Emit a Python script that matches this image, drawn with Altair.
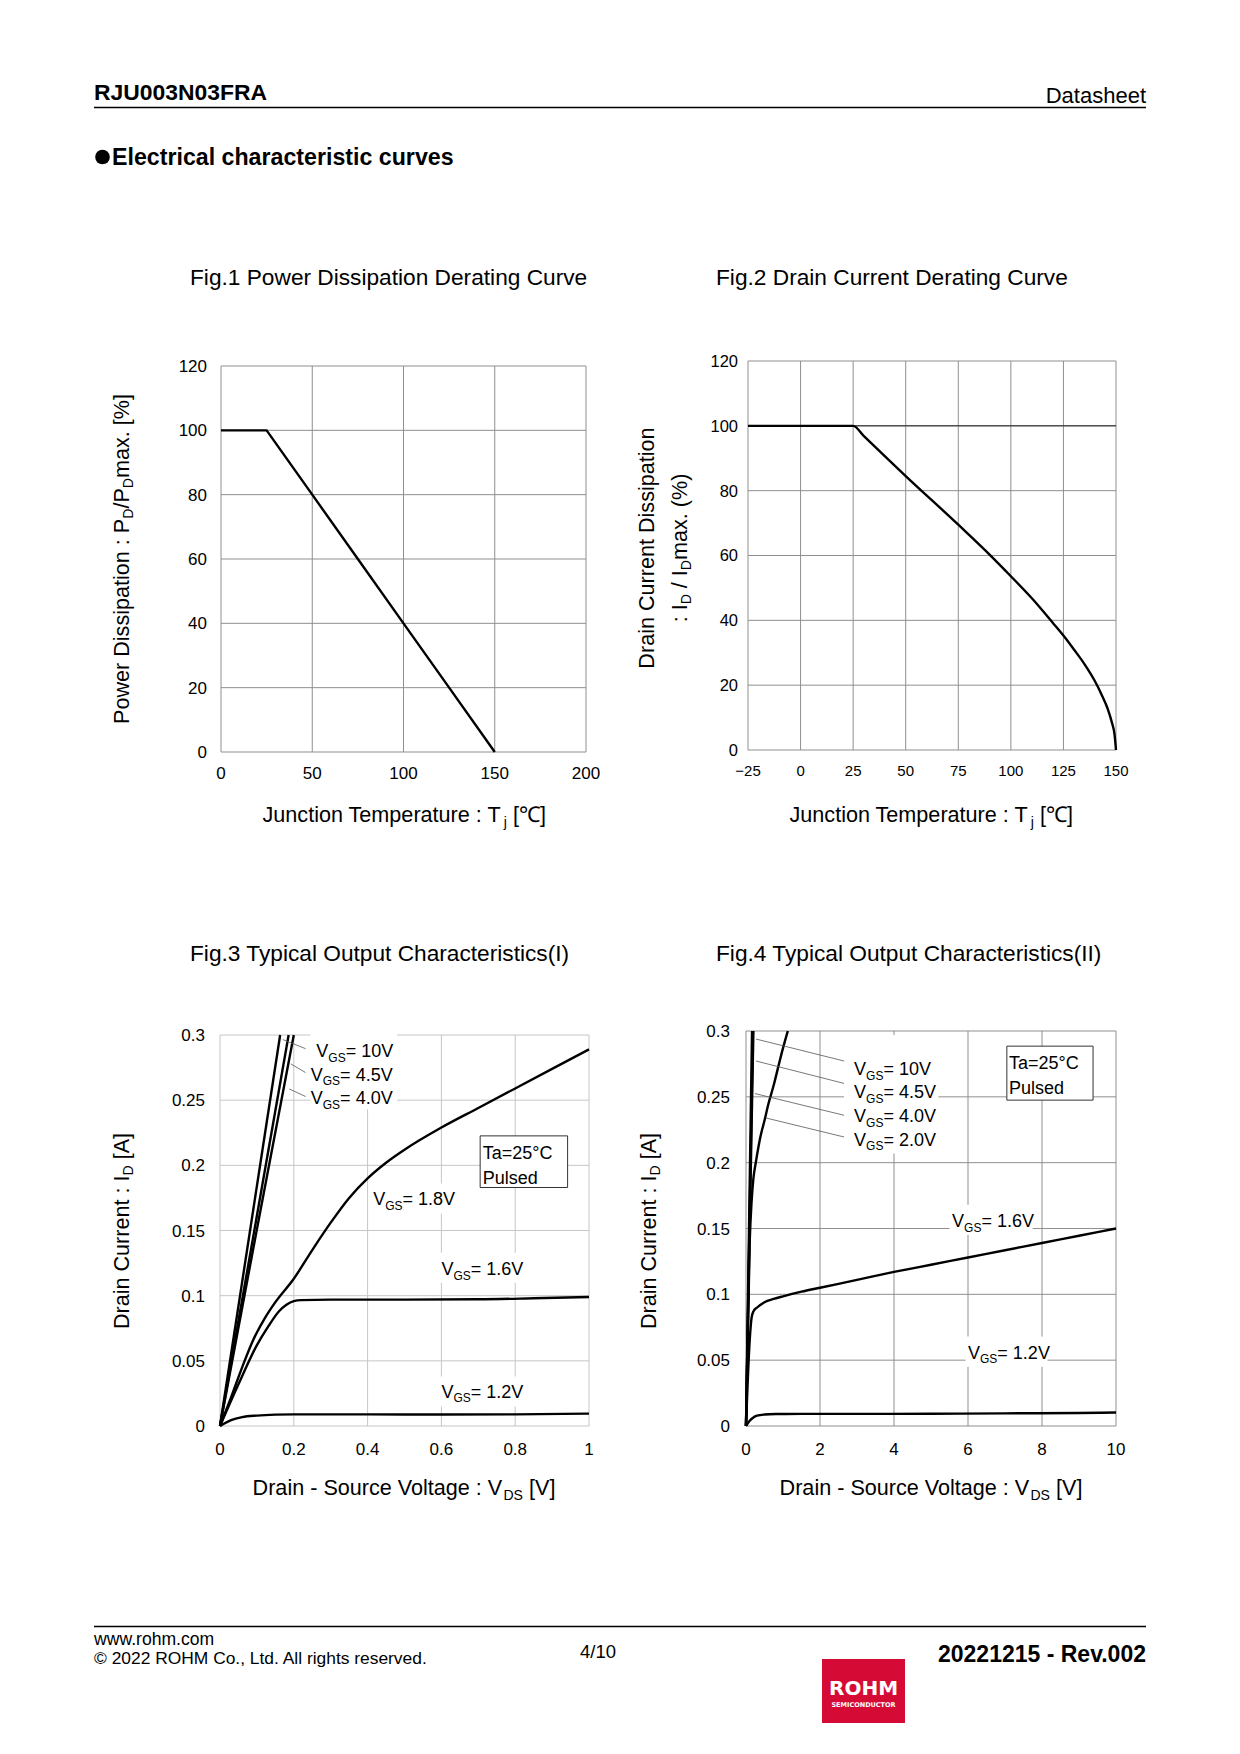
import altair as alt
import pandas as pd

# ---------------- Fig.1 Power Dissipation Derating Curve ----------------
fig1_tj = [0, 25, 50, 75, 100, 125, 150]
fig1_pd = [100, 100, 80, 60, 40, 20, 0]
fig1_xticks = [0, 50, 100, 150, 200]
fig1_xlabels = ["0", "50", "100", "150", "200"]
fig1_yticks = [0, 20, 40, 60, 80, 100, 120]
fig1_ylabels = ["0", "20", "40", "60", "80", "100", "120"]

# ---------------- Fig.2 Drain Current Derating Curve ----------------
fig2_tj = [-25, 25, 30, 50, 75, 90, 100, 110, 120, 125, 130, 135, 140, 143, 146, 148, 149.3, 150]
fig2_id = [100, 100, 96.9, 84.5, 69.5, 60.2, 53.6, 46.8, 39.2, 35.3, 31.0, 26.5, 21.2, 17.3, 12.8, 8.6, 4.8, 0]
fig2_xticks = [-25, 0, 25, 50, 75, 100, 125, 150]
fig2_xlabels = ["\u221225", "0", "25", "50", "75", "100", "125", "150"]
fig2_yticks = [0, 20, 40, 60, 80, 100, 120]
fig2_ylabels = ["0", "20", "40", "60", "80", "100", "120"]

# ---------------- Fig.3 Typical Output Characteristics (I) ----------------
f3_vds_10 = [0, 0.163]
f3_id_10 = [0, 0.3]
f3_vds_45 = [0, 0.186]
f3_id_45 = [0, 0.3]
f3_vds_40 = [0, 0.1, 0.2]
f3_id_40 = [0, 0.151, 0.3]
f3_vds_18 = [0, 0.03, 0.06, 0.09, 0.12, 0.15, 0.2, 0.25, 0.3, 0.35, 0.4, 0.45, 0.5, 0.6, 0.7, 0.8, 0.9, 1.0]
f3_id_18 = [0, 0.022, 0.045, 0.066, 0.082, 0.095, 0.113, 0.135, 0.156, 0.175, 0.19, 0.202, 0.212, 0.229, 0.244, 0.259, 0.274, 0.289]
f3_vds_16 = [0, 0.05, 0.1, 0.13, 0.16, 0.18, 0.2, 0.22, 0.3, 0.5, 0.7, 0.85, 1.0]
f3_id_16 = [0, 0.032, 0.062, 0.076, 0.088, 0.093, 0.0958, 0.0966, 0.097, 0.097, 0.0972, 0.098, 0.099]
f3_vds_12 = [0, 0.03, 0.06, 0.1, 0.15, 0.2, 0.4, 0.6, 0.8, 1.0]
f3_id_12 = [0, 0.0045, 0.0068, 0.008, 0.0087, 0.0089, 0.0089, 0.0088, 0.0089, 0.0095]
fig3_xticks = [0, 0.2, 0.4, 0.6, 0.8, 1.0]
fig3_xlabels = ["0", "0.2", "0.4", "0.6", "0.8", "1"]
fig3_yticks = [0, 0.05, 0.1, 0.15, 0.2, 0.25, 0.3]
fig3_ylabels = ["0", "0.05", "0.1", "0.15", "0.2", "0.25", "0.3"]
fig3_lab_rest = ["= 10V", "= 4.5V", "= 4.0V", "= 1.8V", "= 1.6V", "= 1.2V"]
fig3_lab_x = [0.261, 0.246, 0.246, 0.415, 0.600, 0.600]
fig3_lab_y = [0.288, 0.270, 0.252, 0.1745, 0.1207, 0.0265]
fig3_bg_x0 = [0.245, 0.41, 0.595, 0.595]
fig3_bg_x1 = [0.48, 0.63, 0.83, 0.83]
fig3_bg_y0 = [0.243, 0.163, 0.110, 0.015]
fig3_bg_y1 = [0.302, 0.186, 0.133, 0.038]
fig3_lead_x0 = [0.170, 0.192, 0.188]
fig3_lead_y0 = [0.2965, 0.2778, 0.2586]
fig3_lead_x1 = [0.232, 0.232, 0.232]
fig3_lead_y1 = [0.2895, 0.2712, 0.2528]
fig3_box = [0.705, 0.942, 0.183, 0.2226]
fig3_note = ["Ta=25\u00b0C", "Pulsed"]
fig3_note_x = [0.712, 0.712]
fig3_note_y = [0.2095, 0.191]

# ---------------- Fig.4 Typical Output Characteristics (II) ----------------
f4_vds_10 = [0, 0.163]
f4_id_10 = [0, 0.3]
f4_vds_45 = [0, 0.186]
f4_id_45 = [0, 0.3]
f4_vds_40 = [0, 0.1, 0.2]
f4_id_40 = [0, 0.151, 0.3]
f4_vds_20 = [0, 0.1, 0.15, 0.2, 0.27, 0.33, 0.4, 0.5, 0.6, 0.75, 0.9, 1.0, 1.13]
f4_id_20 = [0, 0.14, 0.17, 0.188, 0.201, 0.211, 0.221, 0.232, 0.244, 0.259, 0.276, 0.287, 0.3]
f4_vds_16 = [0, 0.1, 0.15, 0.2, 0.3, 0.5, 0.75, 1, 1.5, 2, 3, 4, 5, 6, 7, 8, 9, 10]
f4_id_16 = [0, 0.065, 0.082, 0.087, 0.09, 0.094, 0.0965, 0.0985, 0.102, 0.105, 0.111, 0.117, 0.1225, 0.128, 0.1335, 0.139, 0.1445, 0.15]
f4_vds_12 = [0, 0.1, 0.2, 0.3, 0.5, 0.8, 1.5, 3, 5, 7, 9, 10]
f4_id_12 = [0, 0.004, 0.0065, 0.0078, 0.0087, 0.0091, 0.0092, 0.0092, 0.0093, 0.0096, 0.0099, 0.0102]
fig4_xticks = [0, 2, 4, 6, 8, 10]
fig4_xlabels = ["0", "2", "4", "6", "8", "10"]
fig4_yticks = [0, 0.05, 0.1, 0.15, 0.2, 0.25, 0.3]
fig4_ylabels = ["0", "0.05", "0.1", "0.15", "0.2", "0.25", "0.3"]
fig4_lab_rest = ["= 10V", "= 4.5V", "= 4.0V", "= 2.0V", "= 1.6V", "= 1.2V"]
fig4_lab_x = [2.92, 2.92, 2.92, 2.92, 5.57, 6.0]
fig4_lab_y = [0.2713, 0.2537, 0.2356, 0.2179, 0.156, 0.056]
fig4_bg_x0 = [2.65, 5.5, 5.93]
fig4_bg_x1 = [5.2, 7.75, 8.15]
fig4_bg_y0 = [0.207, 0.145, 0.045]
fig4_bg_y1 = [0.297, 0.168, 0.068]
fig4_lead_x0 = [0.27, 0.27, 0.24, 0.53]
fig4_lead_y0 = [0.2939, 0.2772, 0.2525, 0.234]
fig4_lead_x1 = [2.65, 2.65, 2.65, 2.65]
fig4_lead_y1 = [0.2772, 0.2602, 0.236, 0.2195]
fig4_box = [7.05, 9.38, 0.2475, 0.2885]
fig4_note = ["Ta=25\u00b0C", "Pulsed"]
fig4_note_x = [7.11, 7.11]
fig4_note_y = [0.2757, 0.2573]

# ---------------- layout helpers ----------------
FONT = "Liberation Sans"
M = 8  # page margin
TITLE_FS = 22.7
AXT_FS = 21.6


def px(v):
    return v - M


W = {' ': .278, '\u00a0': .278, '!': .278, '%': .889, '(': .333, ')': .333, ',': .278, '-': .333, '.': .278,
     '/': .278, ':': .278, '=': .584, '[': .278, ']': .278, '\u00b0': .4, '\u2103': .95,
     'A': .667, 'B': .667, 'C': .722, 'D': .722, 'E': .667, 'F': .611, 'G': .778, 'H': .722,
     'I': .278, 'J': .5, 'K': .667, 'L': .556, 'M': .833, 'N': .722, 'O': .778, 'P': .667,
     'Q': .778, 'R': .722, 'S': .667, 'T': .611, 'U': .722, 'V': .667, 'W': .944, 'X': .667,
     'Y': .667, 'Z': .611, 'a': .556, 'b': .556, 'c': .5, 'd': .556, 'e': .556, 'f': .278,
     'g': .556, 'h': .556, 'i': .222, 'j': .222, 'k': .5, 'l': .222, 'm': .833, 'n': .556,
     'o': .556, 'p': .556, 'q': .556, 'r': .333, 's': .5, 't': .278, 'u': .556, 'v': .5,
     'w': .722, 'x': .5, 'y': .5, 'z': .5}


def tw(s, size):
    return sum(W.get(c, .556) for c in s) * size


layers = []


def text_at(text, x, y, size, align="left", bold=False, color="black", font=FONT, angle=0):
    layers.append(
        alt.Chart(pd.DataFrame({"t": [text]})).mark_text(
            align=align, baseline="alphabetic", fontSize=size, font=font,
            fontWeight="bold" if bold else "normal", color=color, angle=angle
        ).encode(x=alt.value(px(x)), y=alt.value(px(y)), text="t:N")
    )


def rich(segs, x, y, size, angle=0, sub_scale=0.65, sub_shift=0.22):
    widths = [tw(t, size * sub_scale if s else size) for t, s in segs]
    total = sum(widths)
    pos = 0.0
    for (t, s), w in zip(segs, widths):
        fs = size * sub_scale if s else size
        off = size * sub_shift if s else 0
        core = t.lstrip(" ")
        lead = tw(t[:len(t) - len(core)], fs)
        core = core.rstrip(" ")
        p = pos + lead
        if angle == 0:
            text_at(core, x - total / 2 + p, y + off, fs)
        else:
            text_at(core, x + off, y + total / 2 - p, fs, angle=270)
        pos += w


def mkscale(dom, rng):
    return alt.Scale(domain=dom, range=[px(rng[0]), px(rng[1])], nice=False, zero=False)


def frame(xs, ys, xdom, ydom, xticks, xlabels, yticks, ylabels, gcol,
          xlab_y, ylab_r, fsx, fsy):
    vg = pd.DataFrame({"x": xticks, "y0": [ydom[0]] * len(xticks), "y1": [ydom[1]] * len(xticks)})
    layers.append(alt.Chart(vg).mark_rule(color=gcol, strokeWidth=1).encode(
        x=alt.X("x:Q", scale=xs, axis=None), y=alt.Y("y0:Q", scale=ys, axis=None), y2="y1:Q"))
    hg = pd.DataFrame({"y": yticks, "x0": [xdom[0]] * len(yticks), "x1": [xdom[1]] * len(yticks)})
    layers.append(alt.Chart(hg).mark_rule(color=gcol, strokeWidth=1).encode(
        y=alt.Y("y:Q", scale=ys, axis=None), x=alt.X("x0:Q", scale=xs, axis=None), x2="x1:Q"))
    xl = pd.DataFrame({"x": xticks, "lab": xlabels})
    layers.append(alt.Chart(xl).mark_text(fontSize=fsx, font=FONT, align="center", baseline="alphabetic").encode(
        x=alt.X("x:Q", scale=xs, axis=None), y=alt.value(px(xlab_y)), text="lab:N"))
    yl = pd.DataFrame({"y": yticks, "lab": ylabels})
    layers.append(alt.Chart(yl).mark_text(fontSize=fsy, font=FONT, align="right", baseline="alphabetic",
                                          dy=0.36 * fsy).encode(
        y=alt.Y("y:Q", scale=ys, axis=None), x=alt.value(px(ylab_r)), text="lab:N"))


def curve(xs, ys, xv, yv, interp="monotone", sw=2.4):
    df = pd.DataFrame({"x": xv, "y": yv})
    layers.append(alt.Chart(df).mark_line(color="black", strokeWidth=sw, interpolate=interp,
                                          strokeCap="butt").encode(
        x=alt.X("x:Q", scale=xs, axis=None), y=alt.Y("y:Q", scale=ys, axis=None), order=alt.Order("x:Q")))


def rects(xs, ys, x0, x1, y0, y1, stroke=None):
    df = pd.DataFrame({"x0": x0, "x1": x1, "y0": y0, "y1": y1})
    kw = dict(fill="white")
    if stroke:
        kw.update(stroke=stroke, strokeWidth=1)
    layers.append(alt.Chart(df).mark_rect(**kw).encode(
        x=alt.X("x0:Q", scale=xs, axis=None), x2="x1:Q",
        y=alt.Y("y0:Q", scale=ys, axis=None), y2="y1:Q"))


def leaders(xs, ys, x0, y0, x1, y1):
    df = pd.DataFrame({"x0": x0, "x1": x1, "y0": y0, "y1": y1})
    layers.append(alt.Chart(df).mark_rule(color="#555555", strokeWidth=0.8).encode(
        x=alt.X("x0:Q", scale=xs, axis=None), x2="x1:Q",
        y=alt.Y("y0:Q", scale=ys, axis=None), y2="y1:Q"))


def vgs(xs, ys, lx, ly, rest, size=18, subsize=12):
    df = pd.DataFrame({"x": lx, "y": ly, "rest": rest})
    wv = tw("V", size)
    wgs = tw("GS", subsize)
    enc = dict(x=alt.X("x:Q", scale=xs, axis=None), y=alt.Y("y:Q", scale=ys, axis=None))
    layers.append(alt.Chart(df).mark_text(align="left", baseline="alphabetic", fontSize=size, font=FONT,
                                          dy=0.36 * size).encode(text=alt.value("V"), **enc))
    layers.append(alt.Chart(df).mark_text(align="left", baseline="alphabetic", fontSize=subsize, font=FONT,
                                          dx=wv, dy=0.36 * size + 4.5).encode(text=alt.value("GS"), **enc))
    layers.append(alt.Chart(df).mark_text(align="left", baseline="alphabetic", fontSize=size, font=FONT,
                                          dx=wv + wgs, dy=0.36 * size).encode(text="rest:N", **enc))


def note(xs, ys, box, tx, ty, texts, size=18):
    df = pd.DataFrame({"x0": [box[0]], "x1": [box[1]], "y0": [box[2]], "y1": [box[3]]})
    layers.append(alt.Chart(df).mark_rect(fill="white", stroke="#333333", strokeWidth=1).encode(
        x=alt.X("x0:Q", scale=xs, axis=None), x2="x1:Q",
        y=alt.Y("y0:Q", scale=ys, axis=None), y2="y1:Q"))
    tdf = pd.DataFrame({"x": tx, "y": ty, "t": texts})
    layers.append(alt.Chart(tdf).mark_text(align="left", baseline="alphabetic", fontSize=size, font=FONT,
                                           dy=0.36 * size).encode(
        x=alt.X("x:Q", scale=xs, axis=None), y=alt.Y("y:Q", scale=ys, axis=None), text="t:N"))


# ---------------- page header ----------------
text_at("RJU003N03FRA", 94, 100, 22.9, bold=True)
text_at("Datasheet", 1146, 103, 22, align="right")
layers.append(alt.Chart(pd.DataFrame({"a": [0]})).mark_rule(color="black", strokeWidth=1.5).encode(
    x=alt.value(px(94)), x2=alt.value(px(1146)), y=alt.value(px(107.5))))
layers.append(alt.Chart(pd.DataFrame({"a": [0]})).mark_point(
    shape="circle", filled=True, color="black", opacity=1, size=215).encode(
    x=alt.value(px(102.5)), y=alt.value(px(157))))
text_at("Electrical characteristic curves", 112, 165, 23.2, bold=True)

# ---------------- Fig.1 ----------------
xs1 = mkscale([0, 200], (221, 586))
ys1 = mkscale([0, 120], (752, 366))
text_at("Fig.1 Power Dissipation Derating Curve", 190, 285, TITLE_FS)
frame(xs1, ys1, [0, 200], [0, 120], fig1_xticks, fig1_xlabels, fig1_yticks, fig1_ylabels,
      "#8f8f8f", 779, 207, 17, 17)
curve(xs1, ys1, fig1_tj, fig1_pd, interp="linear")
rich([("Junction Temperature : T", False), ("j", True), (" [\u2103]", False)], 404, 822, AXT_FS)
rich([("Power Dissipation : P", False), ("D", True), ("/P", False), ("D", True), ("max. [%]", False)],
     128.5, 559, AXT_FS, angle=270)

# ---------------- Fig.2 ----------------
xs2 = mkscale([-25, 150], (748, 1116))
ys2 = mkscale([0, 120], (750, 361))
text_at("Fig.2 Drain Current Derating Curve", 716, 285, TITLE_FS)
frame(xs2, ys2, [-25, 150], [0, 120], fig2_xticks, fig2_xlabels, fig2_yticks, fig2_ylabels,
      "#8f8f8f", 775.5, 738, 15, 16.5)
layers.append(alt.Chart(pd.DataFrame({"y": [100], "x0": [-25], "x1": [150]})).mark_rule(
    color="#222222", strokeWidth=1).encode(
    y=alt.Y("y:Q", scale=ys2, axis=None), x=alt.X("x0:Q", scale=xs2, axis=None), x2="x1:Q"))
curve(xs2, ys2, fig2_tj, fig2_id)
rich([("Junction Temperature : T", False), ("j", True), (" [\u2103]", False)], 931, 822, AXT_FS)
rich([("Drain Current Dissipation", False)], 653.5, 548, AXT_FS, angle=270)
rich([(": I", False), ("D", True), (" / I", False), ("D", True), ("max. (%)", False)],
     686.5, 548, AXT_FS, angle=270)

# ---------------- Fig.3 ----------------
xs3 = mkscale([0, 1], (220, 589))
ys3 = mkscale([0, 0.3], (1426, 1035))
text_at("Fig.3 Typical Output Characteristics(I)", 190, 961, TITLE_FS)
frame(xs3, ys3, [0, 1], [0, 0.3], fig3_xticks, fig3_xlabels, fig3_yticks, fig3_ylabels,
      "#c6c6c6", 1455, 205, 17, 17)
rects(xs3, ys3, fig3_bg_x0, fig3_bg_x1, fig3_bg_y0, fig3_bg_y1)
for xv, yv in [(f3_vds_10, f3_id_10), (f3_vds_45, f3_id_45), (f3_vds_40, f3_id_40),
               (f3_vds_18, f3_id_18), (f3_vds_16, f3_id_16), (f3_vds_12, f3_id_12)]:
    curve(xs3, ys3, xv, yv)
leaders(xs3, ys3, fig3_lead_x0, fig3_lead_y0, fig3_lead_x1, fig3_lead_y1)
vgs(xs3, ys3, fig3_lab_x, fig3_lab_y, fig3_lab_rest)
note(xs3, ys3, fig3_box, fig3_note_x, fig3_note_y, fig3_note)
rich([("Drain - Source Voltage : V", False), ("DS", True), (" [V]", False)], 404, 1495, AXT_FS)
rich([("Drain Current : I", False), ("D", True), (" [A]", False)], 128.5, 1231, AXT_FS, angle=270)

# ---------------- Fig.4 ----------------
xs4 = mkscale([0, 10], (746, 1116))
ys4 = mkscale([0, 0.3], (1426, 1031))
text_at("Fig.4 Typical Output Characteristics(II)", 716, 961, TITLE_FS)
frame(xs4, ys4, [0, 10], [0, 0.3], fig4_xticks, fig4_xlabels, fig4_yticks, fig4_ylabels,
      "#8f8f8f", 1455, 730, 17, 17)
rects(xs4, ys4, fig4_bg_x0, fig4_bg_x1, fig4_bg_y0, fig4_bg_y1)
for xv, yv in [(f4_vds_10, f4_id_10), (f4_vds_45, f4_id_45), (f4_vds_40, f4_id_40),
               (f4_vds_20, f4_id_20), (f4_vds_16, f4_id_16), (f4_vds_12, f4_id_12)]:
    curve(xs4, ys4, xv, yv)
leaders(xs4, ys4, fig4_lead_x0, fig4_lead_y0, fig4_lead_x1, fig4_lead_y1)
vgs(xs4, ys4, fig4_lab_x, fig4_lab_y, fig4_lab_rest)
note(xs4, ys4, fig4_box, fig4_note_x, fig4_note_y, fig4_note)
rich([("Drain - Source Voltage : V", False), ("DS", True), (" [V]", False)], 931, 1495, AXT_FS)
rich([("Drain Current : I", False), ("D", True), (" [A]", False)], 655.5, 1231, AXT_FS, angle=270)

# ---------------- footer ----------------
layers.append(alt.Chart(pd.DataFrame({"a": [0]})).mark_rule(color="black", strokeWidth=1.5).encode(
    x=alt.value(px(94)), x2=alt.value(px(1146)), y=alt.value(px(1626.5))))
text_at("www.rohm.com", 94, 1645, 17.6)
text_at("\u00a9 2022 ROHM Co., Ltd. All rights reserved.", 94, 1664, 17.4)
text_at("4/10", 580, 1658, 18.5)
text_at("20221215 - Rev.002", 1146, 1662, 23, align="right", bold=True)
layers.append(alt.Chart(pd.DataFrame({"a": [0]})).mark_rect(color="#D50B35").encode(
    x=alt.value(px(822)), x2=alt.value(px(905)), y=alt.value(px(1659)), y2=alt.value(px(1723))))
text_at("ROHM", 863.5, 1695, 20, align="center", bold=True, color="white", font="DejaVu Sans")
text_at("SEMICONDUCTOR", 863.5, 1707, 6.5, align="center", bold=True, color="white", font="DejaVu Sans")

chart = alt.layer(*layers).resolve_scale(x="independent", y="independent").properties(
    width=1224, height=1738, padding=0, autosize=alt.AutoSizeParams(type="none"),
    background="white"
).configure_view(strokeWidth=0)

chart.save("out.html", embed_options={"renderer": "svg", "actions": False})
